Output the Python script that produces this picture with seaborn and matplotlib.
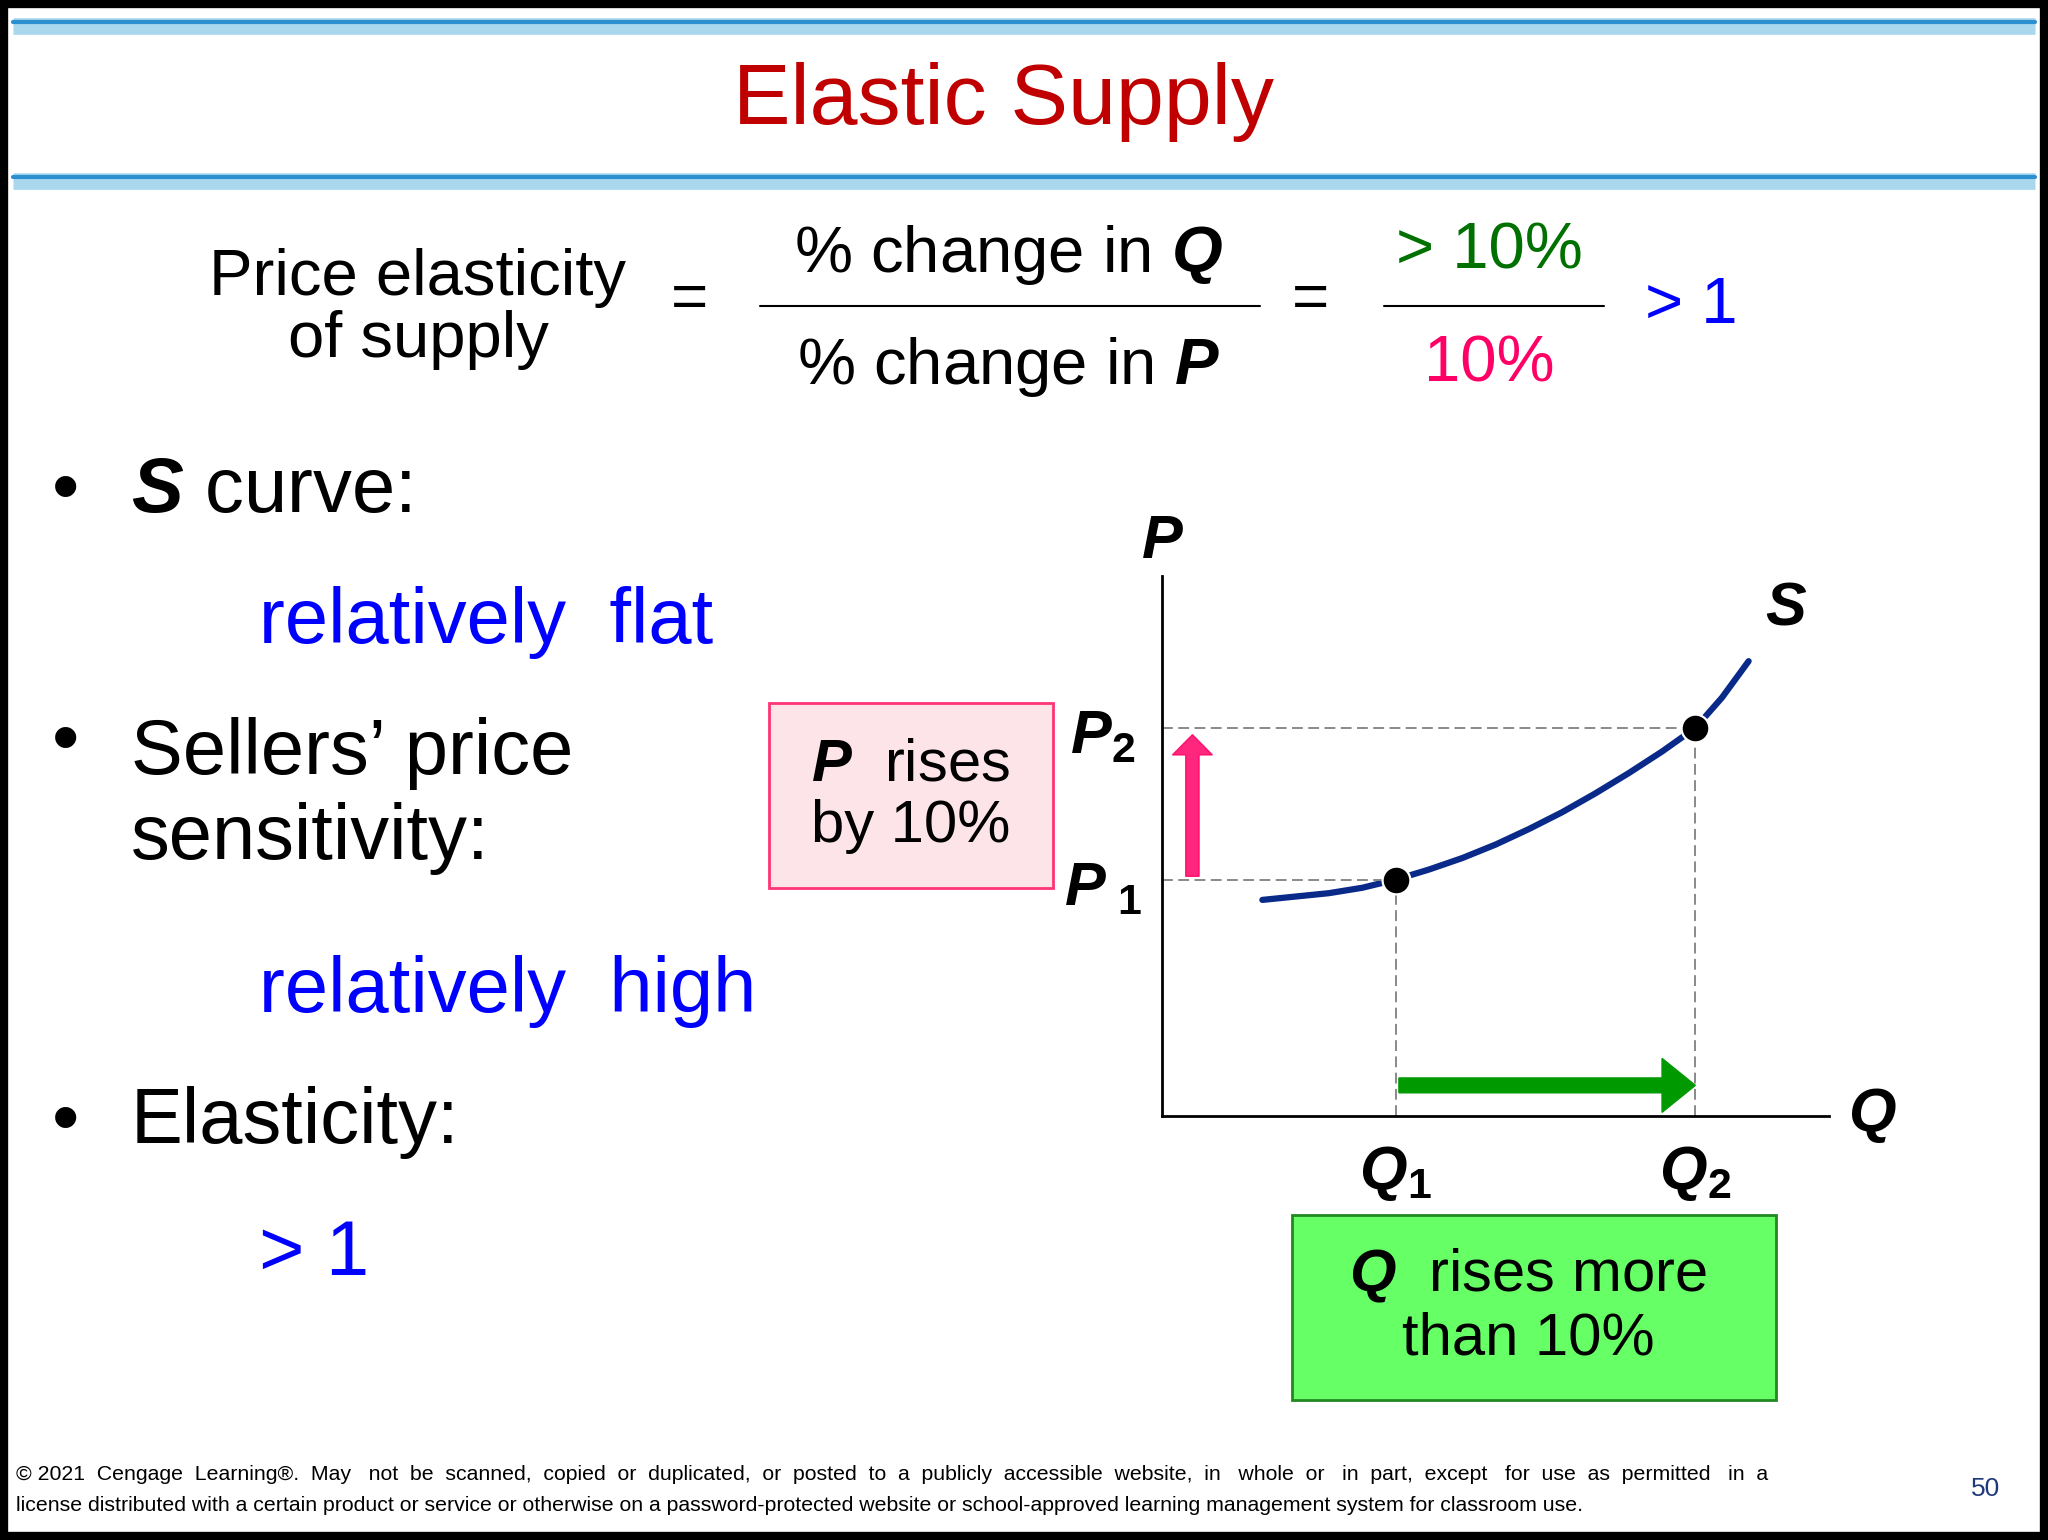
import numpy as np
import pandas as pd
import seaborn as sns
from matplotlib import pyplot as plt
from matplotlib.patches import Rectangle, FancyArrow

# supply curve (Q, P) and the two marked points
curve_q = [1.5, 2.0, 2.5, 3.0, 3.5, 4.0, 4.5, 5.0, 5.5, 6.0, 6.5, 7.0, 7.5, 8.0, 8.4, 8.8]
curve_p = [3.2, 3.25, 3.3, 3.38, 3.5, 3.65, 3.82, 4.02, 4.25, 4.5, 4.78, 5.08, 5.4, 5.75, 6.2, 6.74]
point_q = [3.5, 8.0]
point_p = [3.5, 5.75]

sns.set_style("white")
plt.rcParams['font.family'] = ['Liberation Sans', 'DejaVu Sans']
plt.rcParams['text.color'] = 'black'
plt.rcParams['mathtext.fontset'] = 'custom'
plt.rcParams['mathtext.rm'] = 'Liberation Sans'
plt.rcParams['mathtext.bf'] = 'Liberation Sans:bold'
plt.rcParams['mathtext.it'] = 'Liberation Sans:italic'
plt.rcParams['mathtext.bfit'] = 'Liberation Sans:bold:italic'

fig = plt.figure(figsize=(20.48, 15.4), dpi=100)

# slide layer, pixel coords of a 1568x1176 slide
bg = fig.add_axes([0, 0, 1, 1])
bg.set_xlim(0, 1568)
bg.set_ylim(1176, 0)
bg.axis("off")
bg.add_patch(Rectangle((3, 3), 1562, 1170, fill=False, lw=6, ec="black"))
for y in (20, 138):
    bg.plot([10, 1558], [y, y], color="#a9d8ee", lw=12, solid_capstyle="butt")
    bg.plot([10, 1558], [y - 3, y - 3], color="#2b8fd0", lw=3)

bg.text(768, 78, "Elastic Supply", color="#c00000", fontsize=62, ha="center", va="center")

bg.text(320, 236, "Price elasticity\nof supply", fontsize=47, ha="center", va="center", linespacing=1.05)
bg.text(528, 230, "=", fontsize=46, ha="center", va="center")
bg.text(772, 195, "% change in $\\boldsymbol{Q}$", fontsize=47, ha="center", va="center")
bg.plot([582, 965], [234, 234], color="black", lw=1.5)
bg.text(772, 280, "% change in $\\boldsymbol{P}$", fontsize=47, ha="center", va="center")
bg.text(1003, 230, "=", fontsize=46, ha="center", va="center")
bg.text(1140, 192, "> 10%", color="#007000", fontsize=47, ha="center", va="center")
bg.plot([1060, 1228], [234, 234], color="black", lw=1.5)
bg.text(1140, 278, "10%", color="#ff0066", fontsize=47, ha="center", va="center")
bg.text(1295, 234, "> 1", color="#0000ff", fontsize=47, ha="center", va="center")

bullet = dict(fontsize=56, va="center")
bg.text(40, 375, "•", **bullet)
bg.text(100, 375, "$\\boldsymbol{S}$ curve:", **bullet)
bg.text(198, 475, "relatively  flat", color="#0000ff", **bullet)
bg.text(40, 567, "•", **bullet)
bg.text(100, 608, "Sellers’ price\nsensitivity:", linespacing=1.2, fontsize=56, va="center")
bg.text(198, 757, "relatively  high", color="#0000ff", **bullet)
bg.text(40, 857, "•", **bullet)
bg.text(100, 857, "Elasticity:", **bullet)
bg.text(198, 958, "> 1", color="#0000ff", **bullet)

bg.add_patch(Rectangle((589, 537), 217, 141, fc="#fde4e8", ec="#ff3377", lw=2))
bg.text(697, 608, "$\\boldsymbol{P}$  rises\nby 10%", fontsize=43, ha="center", va="center", linespacing=1.15)
bg.add_patch(Rectangle((989, 928), 371, 141, fc="#66ff66", ec="#228822", lw=2))
bg.text(1170, 998, "$\\boldsymbol{Q}$  rises more\nthan 10%", fontsize=43, ha="center", va="center", linespacing=1.15)

bg.text(12, 1126, "© 2021  Cengage  Learning®.  May   not  be  scanned,  copied  or  duplicated,  or  posted  to  a  publicly  accessible  website,  in   whole  or   in  part,  except   for  use  as  permitted   in  a",
        fontsize=15.3, va="center")
bg.text(12, 1150, "license distributed with a certain product or service or otherwise on a password-protected website or school-approved learning management system for classroom use.",
        fontsize=15.3, va="center")
bg.text(1520, 1137, "50", color="#1f3a7a", fontsize=19, ha="center", va="center")

# chart layer: origin at (890, 852), Q 0..10 -> 510 px, P 0..8 -> 412 px
x0, y0, w, h = 890 / 1568, 1 - 852 / 1176, 510 / 1568, 412 / 1176
ax = fig.add_axes([x0, y0, w, h])
ax.set_xlim(0, 10)
ax.set_ylim(0, 8)
ax.patch.set_alpha(0)
for s in ("top", "right"):
    ax.spines[s].set_visible(False)
for s in ("left", "bottom"):
    ax.spines[s].set_color("black")
    ax.spines[s].set_linewidth(2)
ax.set_xticks([])
ax.set_yticks([])

df = pd.DataFrame({"Q": curve_q, "P": curve_p})
sns.lineplot(data=df, x="Q", y="P", ax=ax, color="#0a2a8a", lw=4.5, sort=True)
for q, p in zip(point_q, point_p):
    ax.plot([0, q], [p, p], ls="--", color="gray", lw=1.3, dashes=(6, 3))
    ax.plot([q, q], [0, p], ls="--", color="gray", lw=1.3, dashes=(6, 3))
sns.scatterplot(x=point_q, y=point_p, ax=ax, color="black", s=400, zorder=5)
ax.set_xlabel("")
ax.set_ylabel("")
ax.add_patch(FancyArrow(3.55, 0.45, 4.45, 0, width=0.22, head_width=0.8, head_length=0.5,
                        length_includes_head=True, color="#009900", clip_on=False))
ax.add_patch(FancyArrow(0.45, 3.55, 0, 2.1, width=0.2, head_width=0.6, head_length=0.3,
                        length_includes_head=True, color="#ff0066", alpha=0.85, clip_on=False))

lab = dict(fontsize=44, fontweight="bold", fontstyle="italic", clip_on=False, ha="center", va="center")
ax.text(0, 8.5, "P", **lab)
ax.text(10.65, 0, "Q", **lab)
ax.text(9.35, 7.5, "S", **lab)
ax.text(point_q[0], -0.85, "$\\boldsymbol{Q}_\\mathbf{1}$", fontsize=44, ha="center", va="center")
ax.text(point_q[1], -0.85, "$\\boldsymbol{Q}_\\mathbf{2}$", fontsize=44, ha="center", va="center")
ax.text(-0.9, point_p[1] - 0.15, "$\\boldsymbol{P}_\\mathbf{2}$", fontsize=44, ha="center", va="center")
ax.text(-0.9, point_p[0] - 0.15, "$\\boldsymbol{P}_\\mathbf{\\ 1}$", fontsize=44, ha="center", va="center")

fig.savefig("out.png", dpi=100)
